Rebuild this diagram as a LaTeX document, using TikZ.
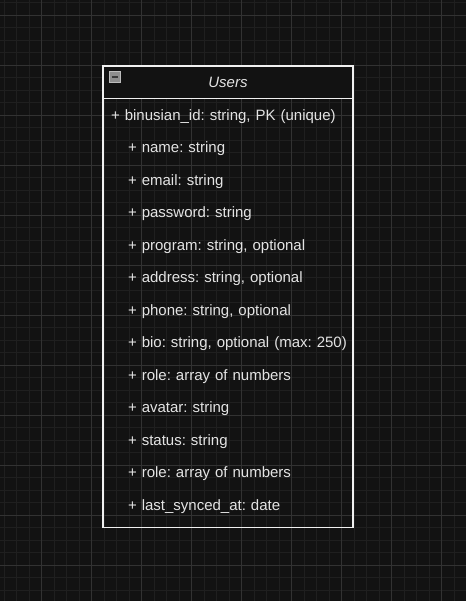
\documentclass[tikz,border=0pt]{standalone}
\usepackage{fontspec}
\setmainfont{Liberation Sans}
\usepackage{xcolor}
\usepackage{tikz}
\usetikzlibrary{positioning,calc}
\frenchspacing
\definecolor{canvasBg}{HTML}{121212}
\definecolor{gridMinor}{HTML}{1F1F1F}
\definecolor{gridMajor}{HTML}{323232}
\definecolor{frameLine}{HTML}{F0F0F0}
\definecolor{attrInk}{HTML}{E4E4E4}
\definecolor{toggleFill}{HTML}{8E8E8E}
\definecolor{toggleEdge}{HTML}{BDBDBD}
\definecolor{toggleBar}{HTML}{3A3A3A}
\tikzset{
  classHeader/.style={
    rectangle,
    draw=frameLine,
    fill=canvasBg,
    line width=1pt,
    minimum width=187.4pt,
    minimum height=24.375pt,
    inner sep=0pt,
    outer sep=0pt,
    text=attrInk,
    font=\fontsize{11.25}{13.5}\selectfont\itshape
  },
  attrRow/.style={
    rectangle,
    text width=200pt,
    align=left,
    minimum height=24.375pt,
    inner sep=0pt,
    outer sep=0pt,
    text height=9.4pt,
    text depth=1.2pt,
    text=attrInk
  },
  classFrame/.style={
    draw=frameLine,
    line width=1pt
  },
  toggleBox/.style={
    rectangle,
    draw=toggleEdge,
    fill=toggleFill,
    line width=0.8pt,
    minimum size=8.25pt,
    inner sep=0pt
  },
  toggleMinus/.style={
    draw=toggleBar,
    line width=1.4pt
  }
}

\begin{document}
\begin{tikzpicture}[x=0.75pt,y=-0.75pt,font=\fontsize{11.25}{13.5}\selectfont]
        % canvas and grid
        \fill[canvasBg] (0,0) rectangle (466,601);
        \useasboundingbox (0,0) rectangle (466,601);
        \begin{scope}[shift={(41.67,15)}]
          \draw[gridMinor, line width=0.75pt, step=9.375pt] (-45,-20) grid (430,590);
          \draw[gridMajor, line width=0.75pt, step=37.5pt] (-45,-20) grid (430,590);
        \end{scope}

        % class header
        \node[classHeader, anchor=north west] (users) at (103,66) {Users};
        \node[toggleBox] (toggle) at (115,77) {};
        \draw[toggleMinus] ([xshift=2pt]toggle.west) -- ([xshift=-2pt]toggle.east);

        % attributes
        \node[attrRow, below right=0pt and 6pt of users.south west] (binusianId) {+ binusian\_id: string, PK (unique)};
        \node[attrRow, below right=0pt and 12.75pt of binusianId.south west] (name) {+ name: string};
        \node[attrRow, below=0pt of name] (email) {+ email: string};
        \node[attrRow, below=0pt of email] (password) {+ password: string};
        \node[attrRow, below=0pt of password] (program) {+ program: string, optional};
        \node[attrRow, below=0pt of program] (address) {+ address: string, optional};
        \node[attrRow, below=0pt of address] (phone) {+ phone: string, optional};
        \node[attrRow, below=0pt of phone] (bio) {+ bio: string, optional (max: 250)};
        \node[attrRow, below=0pt of bio] (roleA) {+ role: array of numbers};
        \node[attrRow, below=0pt of roleA] (avatar) {+ avatar: string};
        \node[attrRow, below=0pt of avatar] (status) {+ status: string};
        \node[attrRow, below=0pt of status] (roleB) {+ role: array of numbers};
        \node[attrRow, below=0pt of roleB] (lastSyncedAt) {+ last\_synced\_at: date};

        % class frame
        \draw[classFrame] (users.north west) rectangle ($(users.east |- lastSyncedAt.south)+(0,-4.875pt)$);
        \draw[classFrame] (users.south west) -- (users.south east);
    \end{tikzpicture}
\end{document}
